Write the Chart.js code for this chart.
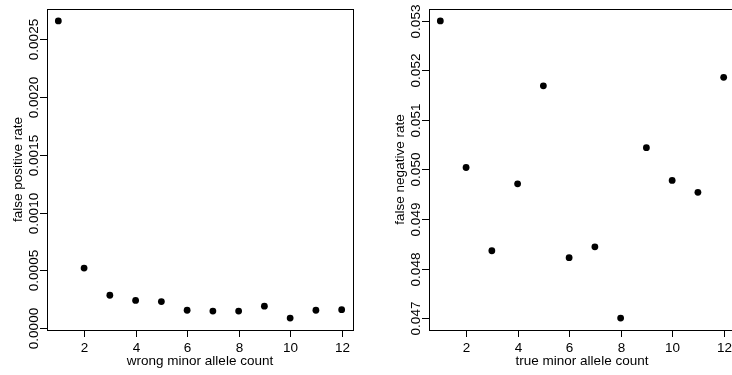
<!DOCTYPE html>
<html>
<head>
<meta charset="utf-8">
<script src="https://cdn.jsdelivr.net/npm/chart.js@4"></script>
<style>
    html, body {
        margin: 0;
        padding: 0;
        width: 732px;
        height: 375px;
        overflow: hidden;
        background: #ffffff;
    }
    canvas {
        position: absolute;
        top: 0;
    }
    #chart-fp { left: 0; }
    #chart-fn { left: 382px; }
</style>
</head>
<body>
<canvas id="chart-fp" width="366" height="375"></canvas>
<canvas id="chart-fn" width="366" height="375"></canvas>

<script>
// ============================================================================
// ALLELE COUNT ERROR RATES
// ============================================================================

const alleleCounts = [1, 2, 3, 4, 5, 6, 7, 8, 9, 10, 11, 12];

const falsePositiveRate = [
    0.00266, 0.00052, 0.000285, 0.00024, 0.00023, 0.000155,
    0.000148, 0.000148, 0.00019, 0.000087, 0.000155, 0.00016
];

const falseNegativeRate = [
    0.05300, 0.05004, 0.04836, 0.04971, 0.05169, 0.04822,
    0.04844, 0.04700, 0.05044, 0.04978, 0.04954, 0.05186
];

const countTicks = [2, 4, 6, 8, 10, 12];
const fpTicks = [0, 0.0005, 0.0010, 0.0015, 0.0020, 0.0025];
const fnTicks = [0.047, 0.048, 0.049, 0.050, 0.051, 0.052, 0.053];

const FONT = '13.5px "Liberation Sans", Arial, sans-serif';

/**
 * Axis limits padded by 4% on each side
 */
function paddedRange(values) {
    const lo = Math.min(...values);
    const hi = Math.max(...values);
    const pad = (hi - lo) * 0.04;
    return { min: lo - pad, max: hi + pad };
}

/**
 * Box, outside ticks, rotated y labels and axis titles
 */
const boxAxesPlugin = {
    id: 'boxAxes',
    afterDraw(chart, args, opts) {
        const ctx = chart.ctx;
        const area = chart.chartArea;
        const xScale = chart.scales.x;
        const yScale = chart.scales.y;
        const tickLen = 7;

        ctx.save();
        ctx.strokeStyle = '#000';
        ctx.fillStyle = '#000';
        ctx.lineWidth = 1;
        ctx.font = FONT;

        // frame
        ctx.strokeRect(area.left + 0.5, area.top + 0.5,
            area.right - area.left, area.bottom - area.top);

        // x axis ticks and labels
        ctx.textAlign = 'center';
        ctx.textBaseline = 'alphabetic';
        opts.xTicks.forEach(v => {
            const px = Math.round(xScale.getPixelForValue(v)) + 0.5;
            ctx.beginPath();
            ctx.moveTo(px, area.bottom);
            ctx.lineTo(px, area.bottom + tickLen);
            ctx.stroke();
            ctx.fillText(String(v), px, area.bottom + 22);
        });
        ctx.fillText(opts.xTitle, (area.left + area.right) / 2, area.bottom + 34.5);

        // y axis ticks and vertical labels
        opts.yTicks.forEach(v => {
            const py = Math.round(yScale.getPixelForValue(v)) + 0.5;
            ctx.beginPath();
            ctx.moveTo(area.left - tickLen, py);
            ctx.lineTo(area.left, py);
            ctx.stroke();
            ctx.save();
            ctx.translate(area.left - 9, py);
            ctx.rotate(-Math.PI / 2);
            ctx.fillText(v.toFixed(opts.yDigits), 0, 0);
            ctx.restore();
        });

        ctx.save();
        ctx.translate(area.left - 25.5, (area.top + area.bottom) / 2);
        ctx.rotate(-Math.PI / 2);
        ctx.fillText(opts.yTitle, 0, 0);
        ctx.restore();

        ctx.restore();
    }
};

function drawRatePlot(canvasId, rates, yTicks, yDigits, xTitle, yTitle) {
    const xRange = paddedRange(alleleCounts);
    const yRange = paddedRange(rates);

    new Chart(document.getElementById(canvasId), {
        type: 'scatter',
        data: {
            datasets: [{
                data: alleleCounts.map((c, i) => ({ x: c, y: rates[i] })),
                backgroundColor: '#000',
                borderWidth: 0,
                pointRadius: 3.4,
                pointHoverRadius: 3.4
            }]
        },
        options: {
            responsive: false,
            animation: false,
            devicePixelRatio: 1,
            layout: {
                padding: { left: 47, top: 9, right: 13, bottom: 45 }
            },
            scales: {
                x: { type: 'linear', display: false, min: xRange.min, max: xRange.max },
                y: { type: 'linear', display: false, min: yRange.min, max: yRange.max }
            },
            plugins: {
                legend: { display: false },
                tooltip: { enabled: false },
                boxAxes: {
                    xTicks: countTicks,
                    yTicks: yTicks,
                    yDigits: yDigits,
                    xTitle: xTitle,
                    yTitle: yTitle
                }
            }
        },
        plugins: [boxAxesPlugin]
    });
}

drawRatePlot('chart-fp', falsePositiveRate, fpTicks, 4,
    'wrong minor allele count', 'false positive rate');
drawRatePlot('chart-fn', falseNegativeRate, fnTicks, 3,
    'true minor allele count', 'false negative rate');
</script>
</body>
</html>
